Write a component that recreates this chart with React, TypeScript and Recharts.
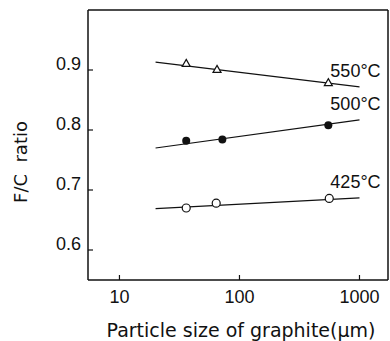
import {
  ComposedChart,
  Line,
  Scatter,
  XAxis,
  YAxis,
  LabelList,
  ReferenceLine,
} from "recharts";

// particle size (µm) and measured F/C ratio for each fluorination temperature
const tempLabels = ["550°C", "500°C", "425°C"];

const size550 = [36, 65, 550];
const ratio550 = [0.911, 0.901, 0.879];
const size500 = [36, 72, 550];
const ratio500 = [0.782, 0.784, 0.808];
const size425 = [36, 64, 560];
const ratio425 = [0.67, 0.678, 0.686];

// end points of the fitted lines
const fitSize = [20, 1000];
const fit550 = [0.913, 0.872];
const fit500 = [0.77, 0.817];
const fit425 = [0.669, 0.687];

const xTicks = [10, 100, 1000];
const yTicks = [0.6, 0.7, 0.8, 0.9];
const xDomain = [5.47, 1728];
const yDomain = [0.55, 1.0];

const toPoints = (xs: number[], ys: number[]) => xs.map((x, i) => ({ x, y: ys[i] }));

const font = "'Liberation Sans', Arial, sans-serif";
const wideFont = "'DejaVu Sans', sans-serif";
const ink = "#111";

const Triangle = (p: any) => (
  <path
    d={`M${p.cx},${p.cy - 4} L${p.cx + 4},${p.cy + 3} L${p.cx - 4},${p.cy + 3} Z`}
    fill="#fff"
    stroke={ink}
    strokeWidth={1.2}
  />
);
const Dot = (p: any) => <circle cx={p.cx} cy={p.cy} r={4} fill={ink} />;
const Ring = (p: any) => (
  <circle cx={p.cx} cy={p.cy} r={4} fill="#fff" stroke={ink} strokeWidth={1.2} />
);

const XTick = (p: any) => (
  <text x={p.x} y={p.y} dy={28} textAnchor="middle" fontFamily={font} fontSize={18} fill={ink}>
    {p.payload.value}
  </text>
);
const YTick = (p: any) => (
  <text x={p.x} y={p.y} dy={0} textAnchor="end" fontFamily={font} fontSize={18} fill={ink}>
    {p.payload.value.toFixed(1)}
  </text>
);

const endLabel = (text: string) => (p: any) =>
  p.index === 1 ? (
    <text x={p.x - 4} y={p.y - 10} textAnchor="middle" fontFamily={font} fontSize={18} fill={ink}>
      {text}
    </text>
  ) : null;

const fitLine = (ys: number[], label: string) => (
  <Line
    data={toPoints(fitSize, ys)}
    dataKey="y"
    type="linear"
    stroke={ink}
    strokeWidth={1.2}
    dot={false}
    isAnimationActive={false}
  >
    <LabelList dataKey="y" content={endLabel(label)} />
  </Line>
);

export default function App() {
  return (
    <div style={{ position: "absolute", left: 0, top: 0, background: "#fff" }}>
      <ComposedChart width={390} height={341} margin={{ top: 10, right: 2, bottom: 0, left: 0 }}>
        <XAxis
          dataKey="x"
          type="number"
          scale="log"
          domain={xDomain}
          ticks={xTicks}
          allowDataOverflow
          height={61}
          tickSize={-5}
          tickMargin={0}
          tick={<XTick />}
          axisLine={{ stroke: ink, strokeWidth: 1.5 }}
          tickLine={{ stroke: ink, strokeWidth: 1.2 }}
          label={{
            content: () => (
              <text x={241} y={337} textAnchor="middle" fontFamily={wideFont} fontSize={19} fill={ink}>
                Particle size of graphite(μm)
              </text>
            ),
          }}
        />
        <YAxis
          dataKey="y"
          type="number"
          domain={yDomain}
          ticks={yTicks}
          allowDataOverflow
          width={88}
          tickSize={-5}
          tickMargin={12}
          tick={<YTick />}
          axisLine={{ stroke: ink, strokeWidth: 1.5 }}
          tickLine={{ stroke: ink, strokeWidth: 1.2 }}
          label={{
            content: () => (
              <text
                transform="translate(27,162) rotate(-90)"
                textAnchor="middle"
                fontFamily={wideFont}
                fontSize={18}
                fill={ink}
                style={{ whiteSpace: "pre" }}
              >
                {"F/C  ratio"}
              </text>
            ),
          }}
        />

        {/* top and right edges of the frame */}
        <ReferenceLine y={yDomain[1]} stroke={ink} strokeWidth={1.5} />
        <ReferenceLine x={xDomain[1]} stroke={ink} strokeWidth={1.5} />

        {fitLine(fit550, tempLabels[0])}
        {fitLine(fit500, tempLabels[1])}
        {fitLine(fit425, tempLabels[2])}

        <Scatter data={toPoints(size550, ratio550)} shape={Triangle} isAnimationActive={false} />
        <Scatter data={toPoints(size500, ratio500)} shape={Dot} isAnimationActive={false} />
        <Scatter data={toPoints(size425, ratio425)} shape={Ring} isAnimationActive={false} />
      </ComposedChart>
    </div>
  );
}
